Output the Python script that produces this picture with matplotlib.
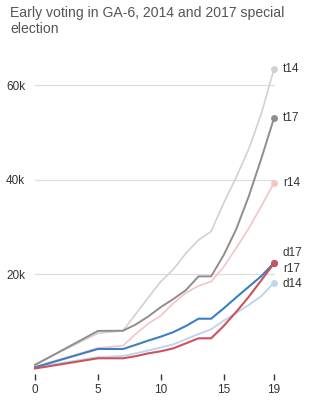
import matplotlib
matplotlib.use("Agg")
import matplotlib.pyplot as plt
import matplotlib.transforms as mtransforms

plt.rcParams['font.family'] = ['Liberation Sans', 'DejaVu Sans']

# Voting days with recorded cumulative totals
days = [0, 5, 7, 8, 9, 10, 11, 12, 13, 14, 15, 16, 17, 18, 19]

# Cumulative early votes per series
t14 = [900, 7450, 8000, 11500, 15000, 18400, 21000, 24400, 27200, 29000, 35000, 40500, 46500, 54000, 63400]
t17 = [740, 7950, 8000, 9300, 11000, 13000, 14700, 16600, 19500, 19500, 24000, 29500, 36500, 44500, 53000]
r14 = [380, 4340, 4830, 7300, 9500, 11200, 13800, 16000, 17500, 18400, 21500, 25500, 29700, 34400, 39300]
d17 = [250, 4130, 4130, 5000, 5900, 6740, 7700, 9000, 10540, 10540, 12730, 15060, 17320, 19570, 22350]
r17 = [0, 2160, 2160, 2600, 3200, 3650, 4270, 5330, 6390, 6390, 9000, 12000, 15200, 18700, 22260]
d14 = [250, 2400, 2650, 3200, 3800, 4450, 5120, 6180, 7300, 8290, 10110, 11800, 13440, 15340, 18160]

series_names = ["t14", "t17", "r14", "d14", "d17", "r17"]
series_values = [t14, t17, r14, d14, d17, r17]

x_ticks = [0, 5, 10, 15, 19]
y_ticks = [20000, 40000, 60000]
y_tick_labels = ["20k", "40k", "60k"]

colors = {
    "t14": "#d2d2cc",
    "t17": "#8e8e8e",
    "r14": "#f4c4c6",
    "d14": "#bcd6ec",
    "d17": "#3b80c3",
    "r17": "#cc525b",
}
widths = {"t14": 1.2, "t17": 1.4, "r14": 1.2, "d14": 1.4, "d17": 1.5, "r17": 1.5}
# label offsets (points) to keep end labels apart
label_dy = {"t14": 0, "t17": 0, "r14": 0, "d17": 7, "r17": -4, "d14": -1}

fig = plt.figure(figsize=(3.24, 4.07), dpi=100)
ax = fig.add_axes([35 / 324, (407 - 368.5) / 407, 239 / 324, 307.1 / 407])
ax.set_xlim(0, 19)
ax.set_ylim(0, 65000)

for yv in y_ticks:
    ax.plot([0, 19], [yv, yv], color="#dedede", lw=0.9, zorder=0, clip_on=False)

for name, vals in zip(series_names, series_values):
    c = colors[name]
    ax.plot(days, vals, color=c, lw=widths[name], clip_on=False, zorder=2,
            solid_joinstyle="miter")
    ax.plot([days[-1]], [vals[-1]], "o", color=c, ms=5, clip_on=False, zorder=3,
            markeredgewidth=0)
    ax.annotate(name, xy=(days[-1], vals[-1]), xytext=(6.3, label_dy[name]),
                textcoords="offset points", va="center", ha="left",
                fontsize=8.5, color="#333333", annotation_clip=False)

for s in ax.spines.values():
    s.set_visible(False)

ax.set_xticks(x_ticks)
ax.set_xticklabels([str(t) for t in x_ticks])
ax.tick_params(axis="x", length=4, width=1, color="#333333", pad=3,
               labelsize=8.5, labelcolor="#333333", direction="out")

ax.set_yticks(y_ticks)
ax.set_yticklabels(y_tick_labels)
ax.tick_params(axis="y", length=0, pad=7, labelsize=8.5, labelcolor="#333333")

# x ticks sit a little below the baseline
offset = mtransforms.ScaledTranslation(0, -4 / 72, fig.dpi_scale_trans)
for t in ax.xaxis.get_major_ticks():
    t.tick1line.set_transform(t.tick1line.get_transform() + offset)
    t.label1.set_transform(t.label1.get_transform() + offset)

fig.text(10 / 324, 1 - 6 / 407, "Early voting in GA-6, 2014 and 2017 special\nelection",
         ha="left", va="top", fontsize=10.1, color="#555555", linespacing=1.15)

fig.savefig("out.png", dpi=100)
